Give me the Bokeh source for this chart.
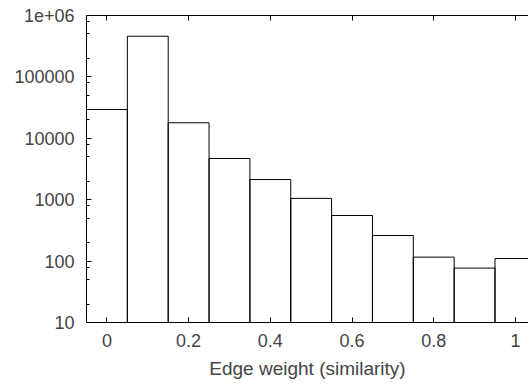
from bokeh.plotting import figure
from bokeh.models import FixedTicker, LinearAxis
from bokeh.embed import file_html
from bokeh.resources import INLINE

# Data (histogram of edge weights)
bin_centers = [0.0, 0.1, 0.2, 0.3, 0.4, 0.5, 0.6, 0.7, 0.8, 0.9, 1.0]
counts = [29400, 460000, 17900, 4690, 2130, 1050, 553, 261, 116, 77, 110]
bin_width = 0.1
floor_value = 10

x_ticks = [0, 0.2, 0.4, 0.6, 0.8, 1.0]
x_tick_labels = ["0", "0.2", "0.4", "0.6", "0.8", "1"]
y_ticks = [10, 100, 1000, 10000, 100000, 1000000]
y_tick_labels = ["10", "100", "1000", "10000", "100000", "1e+06"]
y_minor_mult = [2, 5, 8]

FONT = "Liberation Sans"
FS = "18px"

p = figure(width=528, height=385, output_backend="svg", toolbar_location=None,
           x_range=(-0.05, 1.032), y_range=(10, 1e6), y_axis_type="log",
           min_border_left=86, min_border_right=0, min_border_top=15,
           min_border_bottom=63)
p.outline_line_color = None
p.xgrid.grid_line_color = None
p.ygrid.grid_line_color = None

# bars drawn as open outlines (left edge, top, right edge) from the bin data
xs, ys = [], []
for c, n in zip(bin_centers, counts):
    l, r = c - bin_width / 2, c + bin_width / 2
    xs.append([l, l, r, r])
    ys.append([floor_value, n, n, floor_value])
p.multi_line(xs=xs, ys=ys, line_color="black", line_width=1)

# bottom axis
xa = p.xaxis[0]
xa.ticker = FixedTicker(ticks=x_ticks)
xa.major_label_overrides = {t: l for t, l in zip(x_ticks, x_tick_labels)}
xa.axis_label = "Edge weight (similarity)"
xa.axis_label_text_font = FONT
xa.axis_label_text_font_size = "19px"
xa.axis_label_text_font_style = "normal"
xa.axis_label_standoff = 8
xa.major_label_text_font = FONT
xa.major_label_text_font_size = FS
xa.major_label_standoff = 11
xa.major_tick_in = 5
xa.major_tick_out = 0
xa.minor_tick_line_color = None
xa.axis_line_color = "black"
xa.major_tick_line_color = "black"

# left axis
ya = p.yaxis[0]
minor = [m * d for d in y_ticks[:-1] for m in y_minor_mult]
ya.ticker = FixedTicker(ticks=y_ticks, minor_ticks=minor)
ya.major_label_overrides = {t: l for t, l in zip(y_ticks, y_tick_labels)}
ya.major_label_text_font = FONT
ya.major_label_text_font_size = FS
ya.major_label_standoff = 12
ya.major_tick_in = 5
ya.major_tick_out = 0
ya.minor_tick_in = 3
ya.minor_tick_out = 0
ya.axis_line_color = "black"

# top axis (ticks only)
top = LinearAxis(ticker=FixedTicker(ticks=x_ticks))
top.major_label_overrides = {t: "" for t in x_ticks}
top.major_label_standoff = 0
top.major_tick_in = 5
top.major_tick_out = 0
top.minor_tick_line_color = None
top.axis_line_color = "black"
p.add_layout(top, "above")

open("out.html", "w").write(file_html(p, INLINE))
